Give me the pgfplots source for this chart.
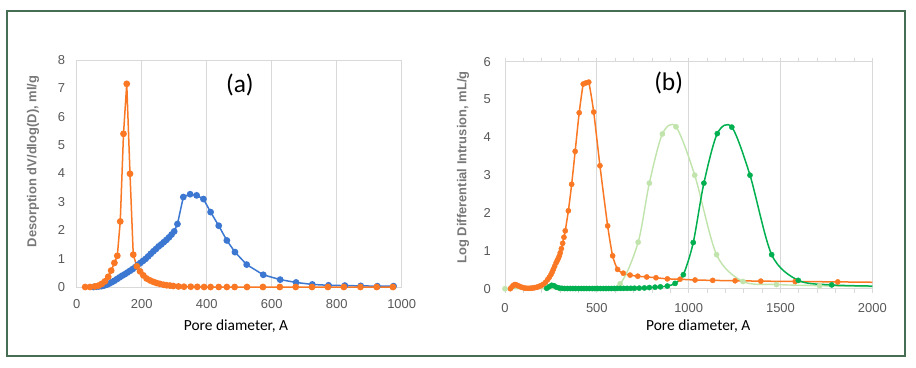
\documentclass[border=0pt]{standalone}
\usepackage{fontspec}
\setmainfont{Liberation Sans}
\newfontfamily\calibri{Carlito}
\usepackage{pgfplots}
\pgfplotsset{compat=1.18}
\definecolor{orng}{RGB}{250,120,35}
\definecolor{blu}{RGB}{60,120,210}
\definecolor{dgreen}{RGB}{0,176,80}
\definecolor{lgreen}{RGB}{192,228,172}
\definecolor{gridgray}{RGB}{217,217,217}
\definecolor{tickgray}{RGB}{89,89,89}
\definecolor{labgray}{RGB}{120,120,120}
\definecolor{bordergreen}{RGB}{70,110,85}
\pgfplotsset{
  common/.style={
    scale only axis, clip=false,
    /pgf/number format/assume math mode=true,
    /pgf/number format/1000 sep={},
    scaled ticks=false,
    xmajorgrids, grid style={gridgray, line width=0.8bp},
    axis line style={gridgray, line width=0.9bp},
    ticklabel style={font=\fontsize{13}{13}\selectfont, text=tickgray},
    yticklabel style={anchor=east, inner sep=0pt},
    xticklabel style={anchor=center, inner sep=0pt},
    ytick style={draw=none},
  },
  mk/.style={mark=*, mark size=2.6bp, line width=1.5bp, color=#1, mark options={fill=#1, draw=#1}},
}
\begin{document}
\begin{tikzpicture}
\fill[white] (0,0) rectangle (916bp,368bp);
\draw[bordergreen, line width=1.5bp] (7bp,12bp) rectangle (905bp,357bp);
% ---------- panel (a)
\begin{axis}[common,
  at={(76.7bp,81bp)}, anchor=south west, width=325bp, height=227bp,
  xmin=0, xmax=1000, ymin=0, ymax=8,
  xtick={0,200,...,1000}, ytick={0,1,...,8},
  xtick style={draw=none},
  yticklabel style={xshift=-11.5bp},
  xticklabel style={yshift=-16.8bp},
  every axis y label/.style={at={(rel axis cs:-0.1345,0.553)}, rotate=90, anchor=center,
     font=\bfseries\fontsize{13}{13}\selectfont, text=labgray},
  every axis x label/.style={at={(rel axis cs:0.49,-0.172)}, anchor=center,
     font=\calibri\fontsize{15.5}{15.5}\selectfont, text=black},
  ylabel={Desorption dV/dlog(D), ml/g},
  xlabel={Pore diameter, A},
]
\addplot[mk=blu] coordinates {
(52,0) (60,0.01) (68,0.02) (76,0.03) (84,0.05) (92,0.08) (100,0.12) (108,0.17)
(116,0.22) (124,0.28) (132,0.34) (140,0.40) (148,0.45) (156,0.51) (164,0.57)
(172,0.63) (180,0.70) (188,0.78) (196,0.85) (204,0.92) (212,0.99) (220,1.08)
(228,1.17) (236,1.26) (244,1.34) (252,1.43) (260,1.50) (268,1.58) (276,1.66)
(284,1.75) (292,1.85) (300,1.96) (310,2.22) (328,3.17) (349,3.27) (369,3.23)
(390,3.10) (412,2.64) (437,2.16) (462,1.64) (487,1.23) (523,0.79) (574,0.43)
(626,0.26) (675,0.16) (725,0.09) (775,0.06) (825,0.05) (874,0.04) (925,0.03) (975,0.03)
};
\addplot[mk=orng] coordinates {
(26,0) (41,0) (56,0.02) (67,0.05) (77,0.11) (87,0.2) (97,0.36) (106,0.58) (116,0.85)
(125,1.10) (134,2.31) (144,5.40) (154,7.16) (164,3.99) (174,1.14) (185,0.73)
(195,0.55) (205,0.41) (215,0.30) (226,0.23) (236,0.18) (246,0.14) (256,0.11)
(267,0.08) (277,0.06) (287,0.05) (297,0.035) (313,0.02) (330,0.01) (351,0.01)
(371,0.005) (392,0) (412,0) (437,0) (462,0) (486,0) (524,0) (573,0) (625,0)
(674,0) (724,0) (773,0) (822,0) (873,0) (923,0) (973,0)
};
\node[font=\calibri\fontsize{25.5}{25.5}\selectfont] at (axis cs:502,7.12) {(a)};
\end{axis}
% ---------- panel (b)
\begin{axis}[common,
  at={(505bp,79.3bp)}, anchor=south west, width=367.3bp, height=227bp,
  xmin=0, xmax=2000, ymin=0, ymax=6,
  xtick={0,500,...,2000}, ytick={0,1,...,6},
  minor xtick={100,200,...,1900},
  tick align=outside, major tick length=4bp, minor tick length=4bp,
  xtick style={gridgray, line width=0.8bp},
  minor x grid style={draw=none},
  yticklabel style={xshift=-10bp},
  xticklabel style={yshift=-15.6bp},
  every axis y label/.style={at={(rel axis cs:-0.1143,0.534)}, rotate=90, anchor=center,
     font=\bfseries\fontsize{13}{13}\selectfont, text=labgray},
  every axis x label/.style={at={(rel axis cs:0.526,-0.164)}, anchor=center,
     font=\calibri\fontsize{15.5}{15.5}\selectfont, text=black},
  ylabel={Log Differential Intrusion, mL/g},
  xlabel={Pore diameter, A},
]
% orange
\addplot[orng, line width=1.5bp, smooth, tension=0.4] coordinates {
(29,0) (38,0.05) (46,0.09) (54,0.11) (62,0.10) (70,0.08) (80,0.06) (90,0.04)
(100,0.025) (110,0.015) (120,0.01) (130,0.01) (140,0.012) (150,0.018) (160,0.025)
(170,0.035) (180,0.05) (190,0.07) (200,0.09) (210,0.12) (221,0.17) (232,0.24)
(241,0.30) (250,0.37) (257,0.44) (263,0.51) (270,0.59) (278,0.68) (284,0.74)
(290,0.80) (296,0.87) (301,0.95) (307,1.06) (314,1.20) (321,1.36) (328,1.53)
(345,2.06) (363,2.76) (382,3.63) (404,4.65) (426,5.41) (441,5.44) (456,5.46)
(483,4.67) (517,3.25) (559,1.66) (586,0.87) (613,0.51) (644,0.41) (681,0.36)
(723,0.33) (772,0.31) (822,0.29) (884,0.26) (953,0.25) (1035,0.23) (1131,0.22)
(1253,0.21) (1393,0.20) (1580,0.19) (1812,0.18) (2000,0.17)
};
\addplot[orng, only marks, mark=*, mark size=2.6bp] coordinates {
(29,0) (38,0.05) (46,0.09) (54,0.11) (62,0.10) (70,0.08) (80,0.06) (90,0.04)
(100,0.025) (110,0.015) (120,0.01) (130,0.01) (140,0.012) (150,0.018) (160,0.025)
(170,0.035) (180,0.05) (190,0.07) (200,0.09) (210,0.12) (221,0.17) (232,0.24)
(241,0.30) (250,0.37) (257,0.44) (263,0.51) (270,0.59) (278,0.68) (284,0.74)
(290,0.80) (296,0.87) (301,0.95) (307,1.06) (314,1.20) (321,1.36) (328,1.53)
(345,2.06) (363,2.76) (382,3.63) (404,4.65) (426,5.41) (441,5.44) (456,5.46)
(483,4.67) (517,3.25) (559,1.66) (586,0.87) (613,0.51) (644,0.41) (681,0.36)
(723,0.33) (772,0.31) (822,0.29) (884,0.26) (953,0.25) (1035,0.23) (1131,0.22)
(1253,0.21) (1393,0.20) (1580,0.19) (1812,0.18)
};
% light green
\addplot[lgreen, line width=1.4bp, smooth, tension=0.5] coordinates {
(0,0) (300,0) (500,0.01) (627,0.13) (725,1.23) (786,2.79) (857,4.09) (931,4.28)
(1033,3.00) (1152,0.90) (1296,0.19) (1478,0.11) (1713,0.08) (2000,0.05)
};
\addplot[lgreen, only marks, mark=*, mark size=2.6bp] coordinates {
(0,0) (300,0) (500,0.01) (627,0.13) (725,1.23) (786,2.79) (857,4.09) (931,4.28)
(1033,3.00) (1152,0.90) (1296,0.19) (1478,0.11) (1713,0.08)
};
% dark green
\addplot[dgreen, line width=1.5bp, smooth, tension=0.5] coordinates {
(227,0.01) (240,0.05) (254,0.09) (266,0.08) (280,0.04) (295,0.02) (310,0.01)
(325,0.005) (340,0.005) (355,0.005) (370,0.005) (385,0.005) (400,0.005) (415,0.005)
(430,0.005) (445,0.005) (460,0.005) (475,0.005) (490,0.005) (505,0.005) (520,0.005)
(535,0.005) (550,0.005) (565,0.005) (580,0.005) (595,0.006) (610,0.007) (628,0.008)
(646,0.009) (665,0.01) (685,0.01) (705,0.012) (731,0.015) (759,0.02) (786,0.03)
(817,0.04) (846,0.05) (884,0.07) (926,0.14) (971,0.37) (1025,1.22) (1083,2.79)
(1156,4.10) (1235,4.27) (1334,3.00) (1452,0.90) (1597,0.22) (1779,0.10) (2000,0.07)
};
\addplot[dgreen, only marks, mark=*, mark size=2.6bp] coordinates {
(227,0.01) (240,0.05) (254,0.09) (266,0.08) (280,0.04) (295,0.02) (310,0.01)
(325,0.005) (340,0.005) (355,0.005) (370,0.005) (385,0.005) (400,0.005) (415,0.005)
(430,0.005) (445,0.005) (460,0.005) (475,0.005) (490,0.005) (505,0.005) (520,0.005)
(535,0.005) (550,0.005) (565,0.005) (580,0.005) (595,0.006) (610,0.007) (628,0.008)
(646,0.009) (665,0.01) (685,0.01) (705,0.012) (731,0.015) (759,0.02) (786,0.03)
(817,0.04) (846,0.05) (884,0.07) (926,0.14) (971,0.37) (1025,1.22) (1083,2.79)
(1156,4.10) (1235,4.27) (1334,3.00) (1452,0.90) (1597,0.22) (1779,0.10)
};
\node[font=\calibri\fontsize{25.5}{25.5}\selectfont, fill=white, inner sep=4bp] at (axis cs:891,5.44) {(b)};
\end{axis}
\end{tikzpicture}
\end{document}
